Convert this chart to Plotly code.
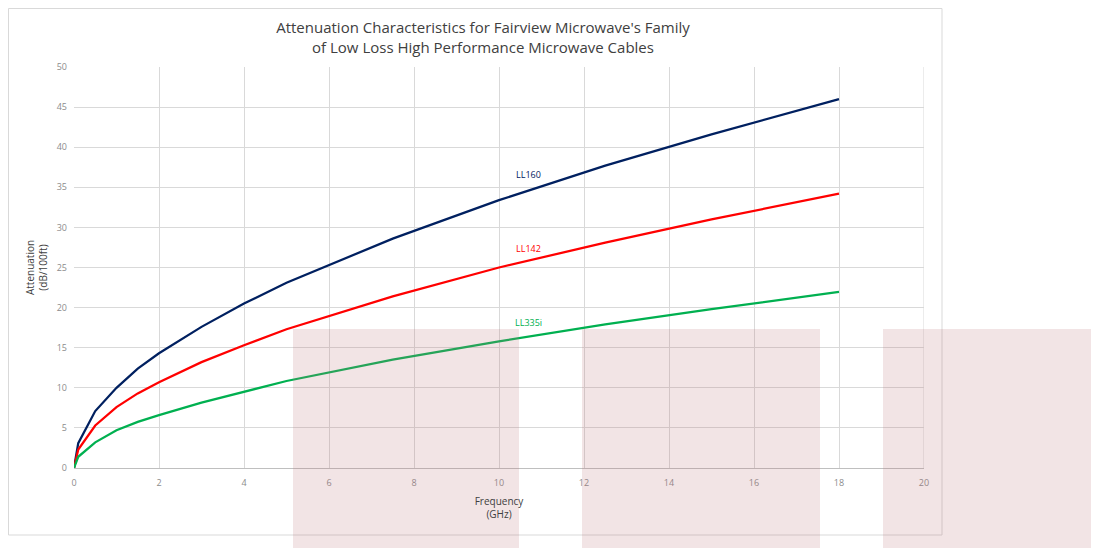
import plotly.graph_objects as go

freq = [0, 0.1, 0.5, 1, 1.5, 2, 3, 4, 5, 7.5, 10, 12.5, 15, 18]
ll160 = [0, 3.1, 7.1, 10.0, 12.4, 14.3, 17.6, 20.5, 23.1, 28.6, 33.4, 37.7, 41.6, 46.0]
ll142 = [0, 2.3, 5.3, 7.6, 9.3, 10.7, 13.2, 15.3, 17.3, 21.4, 25.0, 28.1, 31.0, 34.2]
ll335i = [0, 1.4, 3.2, 4.7, 5.75, 6.6, 8.15, 9.5, 10.85, 13.5, 15.8, 17.9, 19.8, 21.95]

series_names = ["LL160", "LL142", "LL335i"]
series_values = [ll160, ll142, ll335i]
series_colors = ["#002060", "#ff0000", "#00b050"]
label_x = [10.7, 10.7, 10.7]
label_y = [36.6, 27.4, 18.1]

x_ticks = list(range(0, 21, 2))
y_ticks = list(range(0, 51, 5))

FONT = "Open Sans"

fig = go.Figure()
for name, vals, col in zip(series_names, series_values, series_colors):
    fig.add_trace(go.Scatter(x=freq, y=vals, mode="lines", name=name,
                             line=dict(color=col, width=2.25), showlegend=False,
                             hoverinfo="skip"))

for name, lx, ly, col in zip(series_names, label_x, label_y, series_colors):
    fig.add_annotation(x=lx, y=ly, text=name, showarrow=False,
                       font=dict(family=FONT, size=9, color=col))

OFF = 8  # page body margin
W, H = 1099 - OFF, 548 - OFF
L, T = 74 - OFF, 67 - OFF
R = W - (924 - OFF)
B = H - (468 - OFF)
pw, ph = W - L - R, H - T - B

def px2x(px):
    return (px - OFF - L) / pw

def py2y(py):
    return (H - B - (py - OFF)) / ph

shapes = []
# chart border (clamped to the drawable figure area)
shapes.append(dict(type="rect", xref="paper", yref="paper",
                   x0=px2x(8.5), x1=px2x(942), y0=py2y(535), y1=py2y(8.5),
                   line=dict(color="#d9d9d9", width=1), fillcolor="rgba(0,0,0,0)",
                   layer="below"))
# translucent overlay boxes
for x0, x1 in [(293, 519), (582, 820), (883, 1100)]:
    shapes.append(dict(type="rect", xref="paper", yref="paper",
                       x0=px2x(x0), x1=px2x(x1), y0=py2y(549), y1=py2y(329),
                       line=dict(width=0), fillcolor="rgba(190,120,125,0.2)",
                       layer="above"))
# right border of the plot area
shapes.append(dict(type="line", xref="x", yref="paper", x0=20, x1=20, y0=0, y1=1,
                   line=dict(color="#d9d9d9", width=1), layer="below"))

fig.update_layout(
    width=W, height=H,
    margin=dict(l=L, r=R, t=T, b=B),
    paper_bgcolor="white", plot_bgcolor="white",
    title=dict(text="Attenuation Characteristics for Fairview Microwave's Family<br>of Low Loss High Performance Microwave Cables",
               x=(483 - OFF) / W, xanchor="center",
               y=1 - (33 - OFF) / H, yanchor="middle",
               font=dict(family=FONT, size=15, color="#404040")),
    font=dict(family=FONT),
    shapes=shapes,
    xaxis=dict(range=[0, 20], tickvals=x_ticks, ticktext=[str(v) for v in x_ticks],
               showgrid=True, gridcolor="#d9d9d9", gridwidth=1,
               showline=True, linecolor="#bfbfbf", linewidth=1, mirror=False,
               zeroline=False, ticks="", ticklabelstandoff=6,
               tickfont=dict(size=9, color="#8c8c8c"),
               title=dict(text="Frequency<br>(GHz)", font=dict(size=10, color="#404040"), standoff=10)),
    yaxis=dict(range=[0, 50], tickvals=y_ticks, ticktext=[str(v) for v in y_ticks],
               showgrid=True, gridcolor="#d9d9d9", gridwidth=1,
               zeroline=False, ticks="", ticklabelstandoff=6,
               tickfont=dict(size=9, color="#8c8c8c"),
               title=dict(text="Attenuation<br>(dB/100ft)", font=dict(size=10, color="#404040"), standoff=7)),
)

fig.write_html("out.html")
